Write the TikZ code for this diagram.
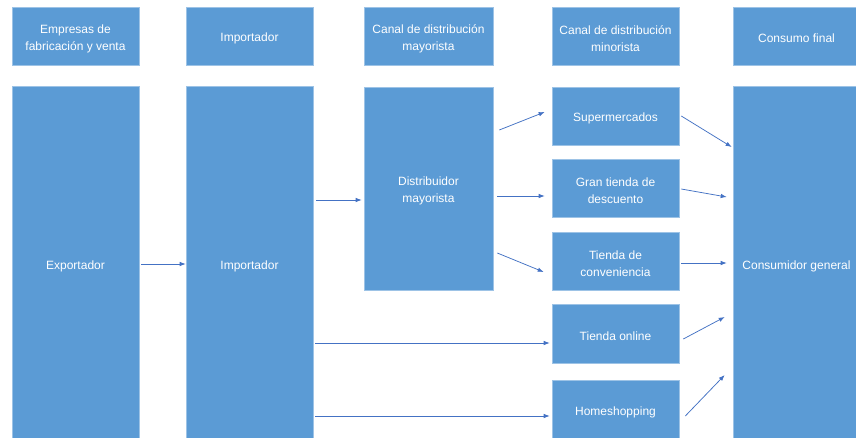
\documentclass[tikz,border=0pt]{standalone}
\usepackage{fontspec}
\setmainfont{Liberation Sans}
\usetikzlibrary{arrows.meta,calc}
\definecolor{boxblue}{HTML}{5B9BD5}
\definecolor{arrblue}{HTML}{4472C4}
\tikzset{
  box/.style={rectangle, fill=boxblue, draw=boxblue!60!white, line width=0.6pt, inner sep=0pt},
  lbl/.style={text=white, align=center, inner sep=0pt, yshift=-2.5pt, font=\fontsize{12}{17}\selectfont},
  arr/.style={draw=arrblue, line width=0.75pt, -{Latex[length=6pt,width=4.5pt]}}
}
\begin{document}
\begin{tikzpicture}[x=1pt,y=-1pt]
\useasboundingbox (0,0) rectangle (856,437);
\clip (0,0) rectangle (856,437);
\fill[white] (0,0) rectangle (856,437);
% headers
\node[box, minimum width=127pt, minimum height=58pt, label={[lbl]center:{Empresas de\\fabricación y venta}}] (h1) at (75.5,36) {};
\node[box, minimum width=127pt, minimum height=58pt, label={[lbl]center:{Importador}}] (h2) at (249.5,36) {};
\node[box, minimum width=129pt, minimum height=58pt, label={[lbl]center:{Canal de distribución\\mayorista}}] (h3) at (428.5,36) {};
\node[box, minimum width=127pt, minimum height=58pt, label={[lbl]center:{Canal de distribución\\minorista}}] (h4) at (615.5,36) {};
\node[box, minimum width=127pt, minimum height=58pt, label={[lbl]center:{Consumo final}}] (h5) at (796.5,36) {};
% body
\node[box, minimum width=127pt, minimum height=356pt, label={[lbl]center:{Exportador}}] (exp) at (75.5,264) {};
\node[box, minimum width=127pt, minimum height=356pt, label={[lbl]center:{Importador}}] (imp) at (249.5,264) {};
\node[box, minimum width=129pt, minimum height=203pt, label={[lbl]center:{Distribuidor\\mayorista}}] (dist) at (428.5,188.5) {};
\node[box, minimum width=127pt, minimum height=58pt, label={[lbl]center:{Supermercados}}] (sup) at (615.5,116) {};
\node[box, minimum width=127pt, minimum height=58pt, label={[lbl]center:{Gran tienda de\\descuento}}] (gran) at (615.5,188) {};
\node[box, minimum width=127pt, minimum height=58pt, label={[lbl]center:{Tienda de\\conveniencia}}] (conv) at (615.5,261) {};
\node[box, minimum width=127pt, minimum height=59pt, label={[lbl]center:{Tienda online}}] (onl) at (615.5,333.5) {};
\node[box, minimum width=127pt, minimum height=60pt, label={[lbl]center:{Homeshopping}}] (home) at (615.5,410) {};
\node[box, minimum width=127pt, minimum height=356pt, label={[lbl]center:{Consumidor general}}] (cons) at (796.5,264) {};
% arrows
\draw[arr] ($(exp.east)+(2,0)$) -- (imp.west);
\draw[arr] ($(imp.east)+(3,-64)$) -- ($(dist.west)+(-2,11.5)$);
\draw[arr] ($(dist.east)+(6,-58.5)$) -- ($(sup.west)+(-7,-4)$);
\draw[arr] ($(dist.east)+(4,7.5)$) -- ($(gran.west)+(-7,8)$);
\draw[arr] ($(dist.east)+(4,64.5)$) -- ($(conv.west)+(-8,11)$);
\draw[arr] ($(imp.east)+(2,79)$) -- ($(onl.west)+(-2,9.5)$);
\draw[arr] ($(imp.east)+(2,152)$) -- ($(home.west)+(-2,6)$);
\draw[arr] ($(sup.east)+(2,0)$) -- ($(cons.west)+(-1,-117)$);
\draw[arr] ($(gran.east)+(2,1)$) -- ($(cons.west)+(-6,-67)$);
\draw[arr] ($(conv.east)+(2,2)$) -- ($(cons.west)+(-6,-1)$);
\draw[arr] ($(onl.east)+(4,5.5)$) -- ($(cons.west)+(-8,53)$);
\draw[arr] ($(home.east)+(6,6)$) -- ($(cons.west)+(-8,111)$);
\end{tikzpicture}
\end{document}
